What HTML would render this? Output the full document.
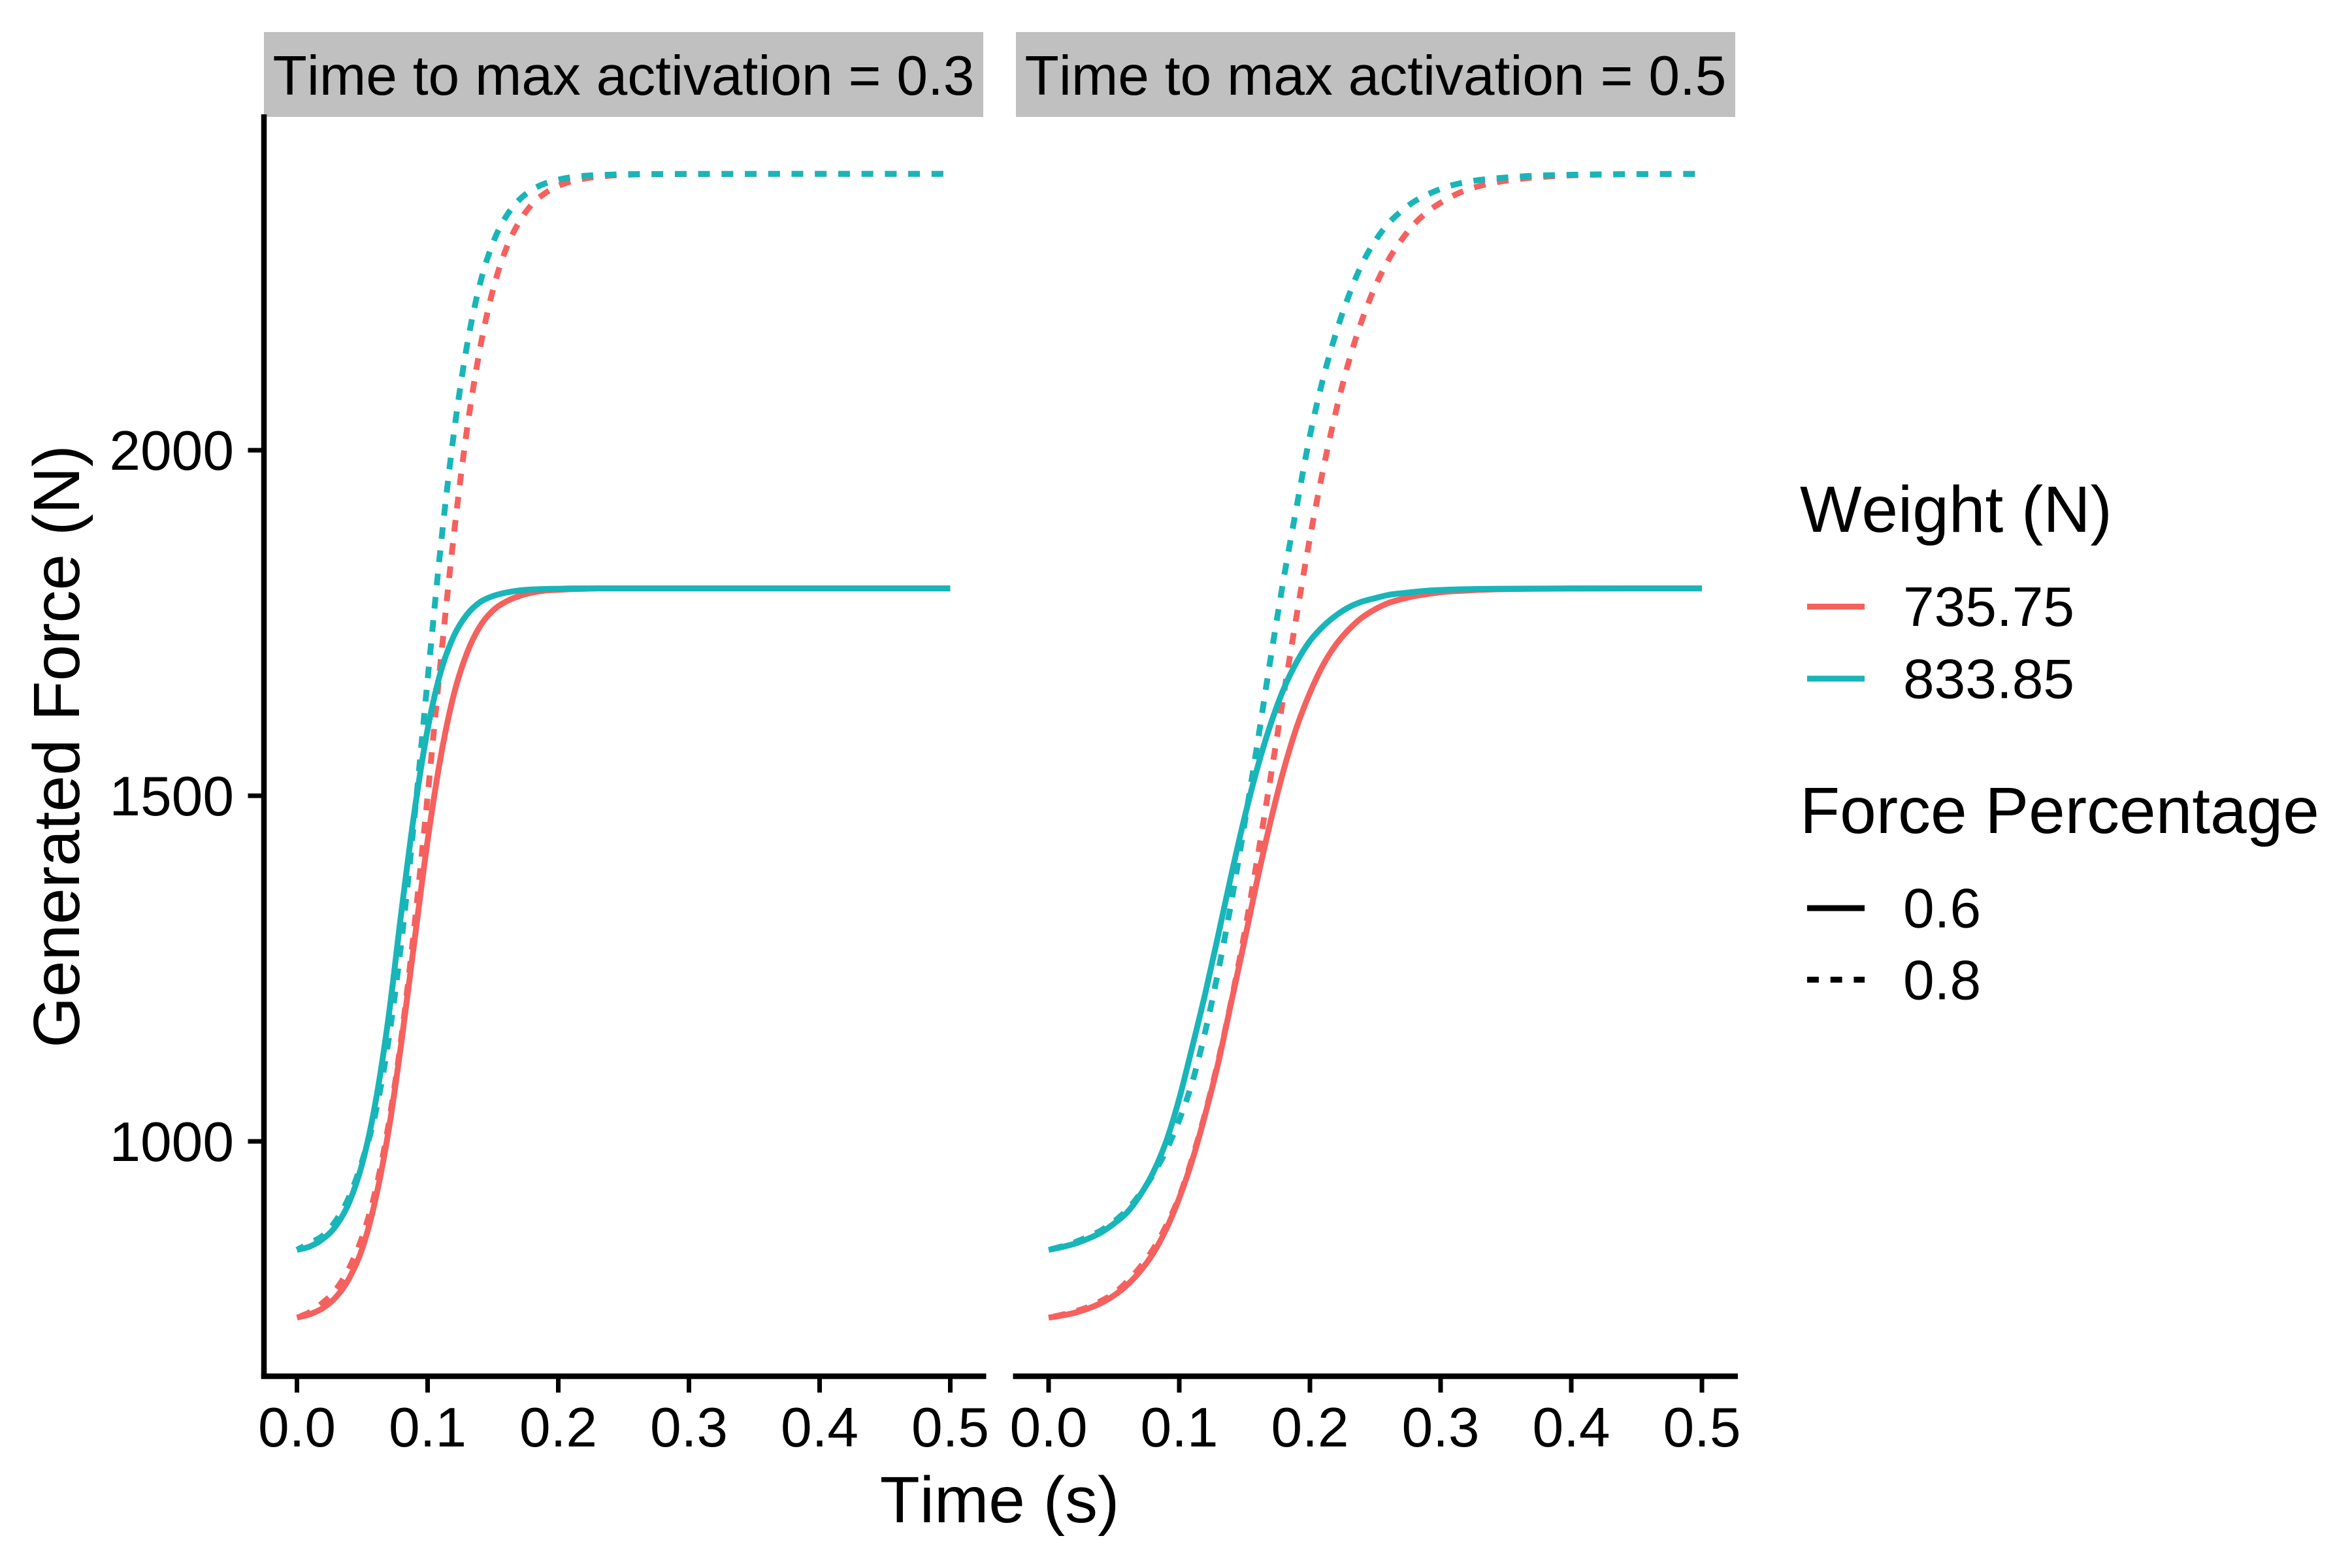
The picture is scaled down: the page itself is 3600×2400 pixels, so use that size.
<!DOCTYPE html>
<html lang="en">
<head>
<meta charset="utf-8">
<title>Generated Force vs Time</title>
<style>
  html, body { margin: 0; padding: 0; background: #ffffff; }
  svg { display: block; }
  text { font-family: "Liberation Sans", Arial, sans-serif; fill: #000000; font-kerning: none; }
</style>
</head>
<body>
<svg id="chart" xmlns="http://www.w3.org/2000/svg" width="3600" height="2400" viewBox="0 0 3600 2400">
  <rect x="0" y="0" width="3600" height="2400" fill="#ffffff"/>
  <rect x="404" y="49" width="1101" height="130" fill="#c0c0c0"/>
  <rect x="1555" y="49" width="1101" height="130" fill="#c0c0c0"/>
  <text x="954.5" y="145" font-size="85.7" text-anchor="middle">Time to max activation = 0.3</text>
  <text x="2105.5" y="145" font-size="85.7" text-anchor="middle">Time to max activation = 0.5</text>

  <g id="series-layer"></g>
  <g id="axis-layer"></g>

  <text x="1530" y="2330" font-size="100" text-anchor="middle">Time (s)</text>
  <text transform="translate(121 1142.5) rotate(-90)" font-size="100" text-anchor="middle">Generated Force (N)</text>

  <g>
    <text x="2755" y="814" font-size="100">Weight (N)</text>
    <line x1="2766" x2="2854" y1="928.5" y2="928.5" stroke="#F5615E" stroke-width="9"/>
    <text x="2913" y="958" font-size="85.7">735.75</text>
    <line x1="2766" x2="2854" y1="1038.7" y2="1038.7" stroke="#18B5B9" stroke-width="9"/>
    <text x="2913" y="1068.5" font-size="85.7">833.85</text>
  </g>
  <g>
    <text x="2755" y="1275" font-size="100">Force Percentage</text>
    <line x1="2766" x2="2854" y1="1390" y2="1390" stroke="#000000" stroke-width="9"/>
    <text x="2913" y="1419.5" font-size="85.7">0.6</text>
    <line x1="2766" x2="2854" y1="1499.5" y2="1499.5" stroke="#000000" stroke-width="9" stroke-dasharray="17.86 17.86"/>
    <text x="2913" y="1529.5" font-size="85.7">0.8</text>
  </g>
</svg>
<script>
// ---- Data ----
const leftTime = [0,0.01,0.02,0.03,0.04,0.05,0.06,0.07,0.08,0.09,0.10,0.11,0.12,0.13,0.14,0.15,0.16,0.17,0.18,0.19,0.20,0.21,0.22,0.23,0.24,0.25,0.26,0.30,0.40,0.50];
const leftRedSolid = [745,750,759,775,802,845,915,1014,1144,1291,1435,1556,1646,1706,1745,1768,1781,1789,1794,1797,1798,1799,1799.5,1800,1800,1800,1800,1800,1800,1800];
const leftRedDashed = [745,753,767,786,817,862,928,1023,1151,1313,1500,1695,1876,2028,2146,2232,2291,2330,2356,2372,2382.4,2389,2393,2395.6,2397.3,2398.3,2399,2399.6,2399.8,2399.8];
const leftTealSolid = [843,848,859,878,912,968,1055,1178,1333,1478,1596,1679,1731,1762,1780,1789,1794,1797,1798.5,1799.2,1799.6,1800,1800,1800,1800,1800,1800,1800,1800,1800];
const leftTealDashed = [843,853,864,886,920,972,1040,1145,1290,1470,1668,1860,2023,2150,2240,2300,2338,2362,2377,2386,2391.5,2395,2397,2398,2398.7,2399.2,2399.5,2399.7,2399.8,2399.8];

const rightTime = [0,0.01,0.02,0.03,0.04,0.05,0.06,0.07,0.08,0.09,0.10,0.11,0.12,0.13,0.14,0.15,0.16,0.17,0.18,0.19,0.20,0.21,0.22,0.23,0.24,0.25,0.26,0.27,0.28,0.29,0.30,0.31,0.32,0.33,0.34,0.35,0.37,0.40,0.44,0.50];
const rightRedSolid = [745,748,752,758,766,777,792,812,838,873,918,973,1040,1115,1203,1291,1381,1464,1538,1600,1649,1689,1719,1741,1758,1770,1779,1784.5,1789,1792,1794.5,1796,1797,1798,1798.6,1799,1799.5,1799.8,1800,1800];
const rightRedDashed = [745,749,754,760,769,780,797,818,844,878,920,976,1042,1118,1205,1302,1412,1528,1647,1763,1873,1971,2057,2130,2189,2237,2275,2304,2327.6,2345,2358,2368.6,2376.6,2382.4,2386.7,2390,2394.4,2397.7,2399.3,2399.8];
const rightTealSolid = [843,847,852,859,868,881,897,922,955,1000,1062,1137,1215,1300,1387,1469,1542,1604,1655,1694,1724,1745,1761,1773,1781,1786,1790.6,1793,1795,1796.7,1797.7,1798.4,1798.9,1799.2,1799.5,1799.6,1799.8,1800,1800,1800];
const rightTealDashed = [843,848,854,862,871,884,901,924,952,987,1031,1086,1160,1248,1348,1460,1578,1700,1815,1920,2021,2103,2170,2225,2270,2303,2328,2346,2360,2370,2378,2384,2388,2391,2393,2394.5,2397,2398.5,2399.3,2399.8];

const xTickValues = [0,0.1,0.2,0.3,0.4,0.5];
const xTickLabels = ["0.0","0.1","0.2","0.3","0.4","0.5"];
const yTickValues = [1000,1500,2000];
const yTickLabels = ["1000","1500","2000"];

// ---- Axis functions ----
const SVG_NS = "http://www.w3.org/2000/svg";
const RED = "#F5615E";
const TEAL = "#18B5B9";
const DASH = 17.86;
const END_PHASE = 28.66;
function xLeft(t) { return 454.5 + t * 2000; }
function xRight(t) { return 1605 + t * 2000; }
function yAxis(v) { return 1747 - (v - 1000) * 1.0579; }

function smoothPath(times, values, xFn) {
  const pts = times.map(function (t, i) { return [xFn(t), yAxis(values[i])]; });
  let d = "M" + pts[0][0].toFixed(2) + " " + pts[0][1].toFixed(2);
  for (let i = 0; i < pts.length - 1; i++) {
    const p0 = pts[Math.max(0, i - 1)];
    const p1 = pts[i];
    const p2 = pts[i + 1];
    const p3 = pts[Math.min(pts.length - 1, i + 2)];
    const h = p2[0] - p1[0];
    const m1 = (p2[1] - p0[1]) / (p2[0] - p0[0]);
    const m2 = (p3[1] - p1[1]) / (p3[0] - p1[0]);
    d += "C" + (p1[0] + h / 3).toFixed(2) + " " + (p1[1] + m1 * h / 3).toFixed(2) + " " +
         (p2[0] - h / 3).toFixed(2) + " " + (p2[1] - m2 * h / 3).toFixed(2) + " " +
         p2[0].toFixed(2) + " " + p2[1].toFixed(2);
  }
  return d;
}

const seriesLayer = document.getElementById("series-layer");
function drawSeries(name, times, values, xFn, color, dashed) {
  const el = document.createElementNS(SVG_NS, "path");
  
  
  el.setAttribute("d", smoothPath(times, values, xFn));
  el.setAttribute("fill", "none");
  el.setAttribute("stroke", color);
  el.setAttribute("stroke-width", "9");
  el.setAttribute("stroke-linejoin", "round");
  seriesLayer.appendChild(el);
  if (dashed) {
    const period = DASH * 2;
    const total = el.getTotalLength();
    const offset = ((END_PHASE - total) % period + period) % period;
    el.setAttribute("stroke-dasharray", DASH + " " + DASH);
    el.setAttribute("stroke-dashoffset", offset.toFixed(2));
  }
}
drawSeries("line-left-735-solid", leftTime, leftRedSolid, xLeft, RED, false);
drawSeries("line-left-735-dashed", leftTime, leftRedDashed, xLeft, RED, true);
drawSeries("line-left-833-solid", leftTime, leftTealSolid, xLeft, TEAL, false);
drawSeries("line-left-833-dashed", leftTime, leftTealDashed, xLeft, TEAL, true);
drawSeries("line-right-735-solid", rightTime, rightRedSolid, xRight, RED, false);
drawSeries("line-right-735-dashed", rightTime, rightRedDashed, xRight, RED, true);
drawSeries("line-right-833-solid", rightTime, rightTealSolid, xRight, TEAL, false);
drawSeries("line-right-833-dashed", rightTime, rightTealDashed, xRight, TEAL, true);

const axisLayer = document.getElementById("axis-layer");
function drawRule(name, x1, y1, x2, y2, width) {
  const el = document.createElementNS(SVG_NS, "line");
  
  
  el.setAttribute("x1", x1);
  el.setAttribute("y1", y1);
  el.setAttribute("x2", x2);
  el.setAttribute("y2", y2);
  el.setAttribute("stroke", "#000000");
  el.setAttribute("stroke-width", width);
  axisLayer.appendChild(el);
}
function drawLabel(name, x, y, anchor, content) {
  const el = document.createElementNS(SVG_NS, "text");
  
  
  el.setAttribute("x", x);
  el.setAttribute("y", y);
  el.setAttribute("font-size", "85.7");
  el.setAttribute("text-anchor", anchor);
  el.textContent = content;
  axisLayer.appendChild(el);
}

drawRule("y-axis-line", 404, 175, 404, 2110.5, 8.5);
drawRule("x-axis-line-left", 399.75, 2106.5, 1509.5, 2106.5, 8.5);
drawRule("x-axis-line-right", 1550.5, 2106.5, 2660, 2106.5, 8.5);

xTickValues.forEach(function (t, i) {
  drawRule("x-tick-left", xLeft(t), 2106.5, xLeft(t), 2131.5, 7);
  drawLabel("x-tick-label-left", xLeft(t), 2214, "middle", xTickLabels[i]);
  drawRule("x-tick-right", xRight(t), 2106.5, xRight(t), 2131.5, 7);
  drawLabel("x-tick-label-right", xRight(t), 2214, "middle", xTickLabels[i]);
});
yTickValues.forEach(function (v, i) {
  drawRule("y-tick", 379.5, yAxis(v), 404, yAxis(v), 7);
  drawLabel("y-tick-label", 358, yAxis(v) + 30, "end", yTickLabels[i]);
});
</script>
</body>
</html>
